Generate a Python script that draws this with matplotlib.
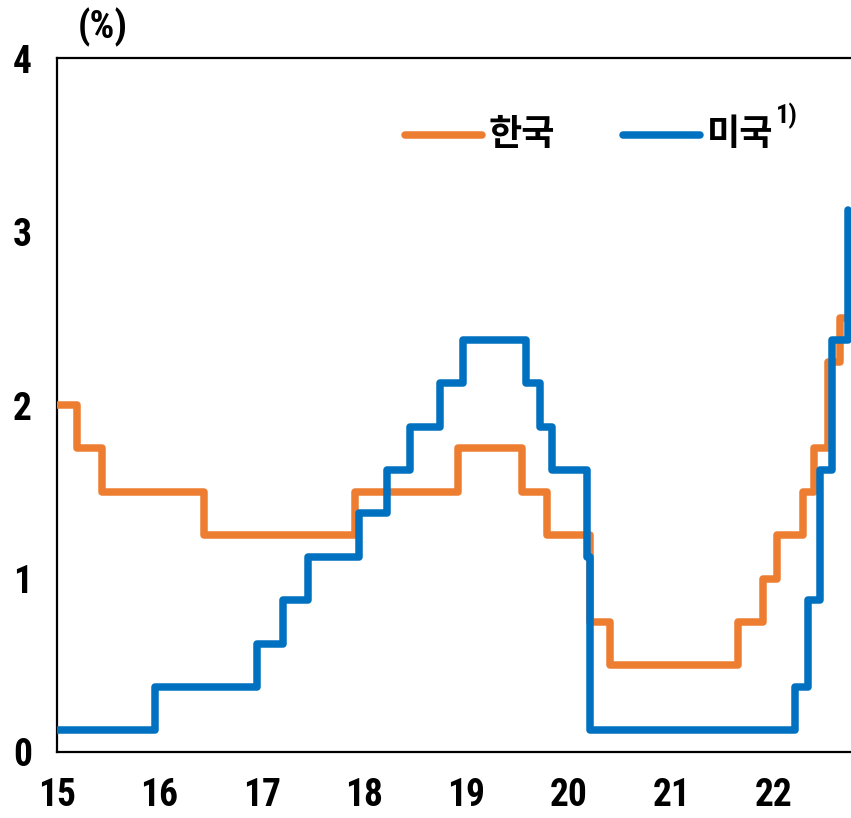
import matplotlib
matplotlib.use("Agg")
import matplotlib.pyplot as plt
from matplotlib.lines import Line2D
import pandas as pd

# Korea base rate (%), change dates
kr_dates = ["2015-01-01", "2015-03-12", "2015-06-11", "2016-06-09", "2017-11-30",
            "2018-11-30", "2019-07-18", "2019-10-16", "2020-03-16", "2020-05-28",
            "2021-08-26", "2021-11-25", "2022-01-14", "2022-04-14", "2022-05-26",
            "2022-07-13", "2022-08-25", "2022-09-22"]
kr_rates = [2.0, 1.75, 1.5, 1.25, 1.5, 1.75, 1.5, 1.25, 0.75, 0.5,
            0.75, 1.0, 1.25, 1.5, 1.75, 2.25, 2.5, 2.5]

# US federal funds target range midpoint (%), change dates
us_dates = ["2015-01-01", "2015-12-17", "2016-12-15", "2017-03-16", "2017-06-15",
            "2017-12-14", "2018-03-22", "2018-06-14", "2018-09-27", "2018-12-20",
            "2019-08-01", "2019-09-19", "2019-10-31", "2020-03-04", "2020-03-16",
            "2022-03-17", "2022-05-05", "2022-06-16", "2022-07-28", "2022-09-22"]
us_rates = [0.125, 0.375, 0.625, 0.875, 1.125, 1.375, 1.625, 1.875, 2.125, 2.375,
            2.125, 1.875, 1.625, 1.125, 0.125, 0.375, 0.875, 1.625, 2.375, 3.125]

year_ticks = [2015, 2016, 2017, 2018, 2019, 2020, 2021, 2022]
year_labels = ["15", "16", "17", "18", "19", "20", "21", "22"]
y_ticks = [0, 1, 2, 3, 4]

ORANGE = "#ED7D31"
BLUE = "#0070C0"
NUM_FONT = ["Roboto Condensed", "Archivo Narrow", "DejaVu Sans"]
KR_FONT = ["Noto Sans CJK KR", "DejaVu Sans"]


def to_year(dates):
    d = pd.to_datetime(pd.Series(dates))
    start = pd.to_datetime(d.dt.year.astype(str) + "-01-01")
    days = (d.dt.is_leap_year.map({True: 366, False: 365})).astype(float)
    return (d.dt.year + (d - start).dt.days / days).to_numpy()


fig = plt.figure(figsize=(8.51, 8.18), dpi=100)
ax = fig.add_axes([0.067, 0.0807, 0.933, 0.8483])

line_kw = dict(drawstyle="steps-post", linewidth=5.4,
               solid_joinstyle="round", solid_capstyle="round")
ax.plot(to_year(kr_dates), kr_rates, color=ORANGE, zorder=3, **line_kw)
ax.plot(to_year(us_dates), us_rates, color=BLUE, zorder=4, **line_kw)

ax.set_xlim(2015.0, 2022.755)
ax.set_ylim(0, 4)
ax.set_xticks(year_ticks)
ax.set_xticklabels(year_labels)
ax.set_yticks(y_ticks)
ax.set_yticklabels([str(v) for v in y_ticks])
ax.tick_params(length=0)
ax.tick_params(axis="x", pad=18)
ax.tick_params(axis="y", pad=18)
for lab in ax.get_xticklabels() + ax.get_yticklabels():
    lab.set_fontfamily(NUM_FONT)
    lab.set_fontweight("bold")
    lab.set_fontsize(27)

for side in ("left", "bottom", "top"):
    ax.spines[side].set_linewidth(1.6)
    ax.spines[side].set_color("black")
ax.spines["right"].set_visible(False)

# unit label
fig.text(103 / 851, 1 - 27 / 818, "(%)", ha="center", va="center",
         fontsize=28, fontweight="bold", family=NUM_FONT)

# legend
leg_y = 1 - 135 / 818
fig.add_artist(Line2D([405 / 851, 482 / 851], [leg_y, leg_y], color=ORANGE,
                      linewidth=5.4, solid_capstyle="round"))
fig.add_artist(Line2D([623 / 851, 700 / 851], [leg_y, leg_y], color=BLUE,
                      linewidth=5.4, solid_capstyle="round"))
fig.text(489 / 851, leg_y, "한국", ha="left", va="center",
         fontsize=26, fontweight="bold", family=KR_FONT)
fig.text(707 / 851, leg_y, "미국", ha="left", va="center",
         fontsize=26, fontweight="bold", family=KR_FONT)
fig.text(776 / 851, 1 - 116 / 818, "1)", ha="left", va="center",
         fontsize=19, fontweight="bold", family=NUM_FONT)

fig.savefig("out.png", dpi=100)
